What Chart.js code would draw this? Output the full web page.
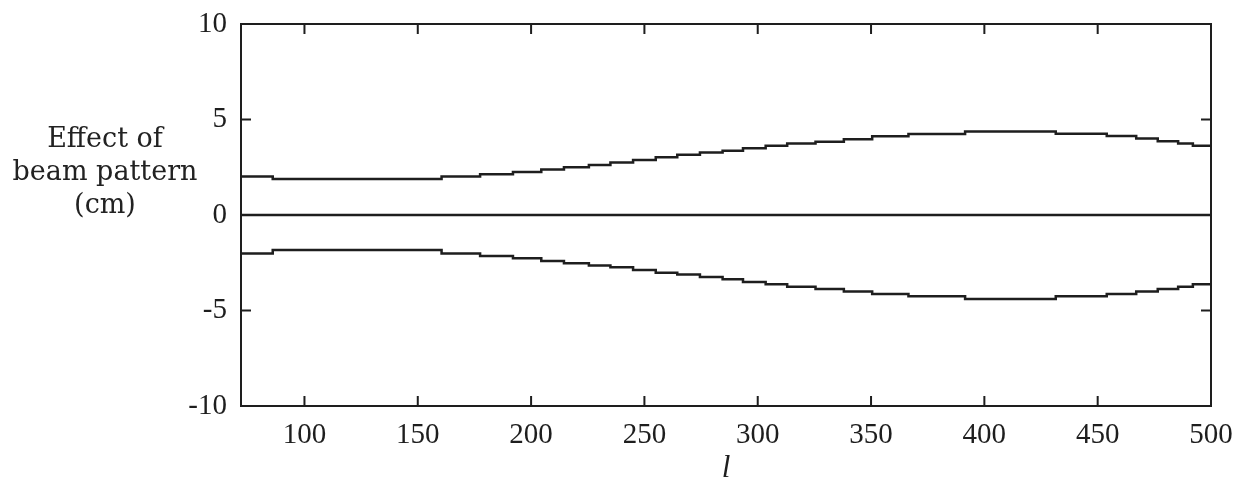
<!DOCTYPE html>
<html>
<head>
<meta charset="utf-8">
<script src="https://cdn.jsdelivr.net/npm/chart.js@4/dist/chart.umd.min.js"></script>
<style>
  html, body { margin: 0; padding: 0; background: #fff; }
  #wrap { position: relative; width: 1235px; height: 487px; }
  #ylabel {
    position: absolute; left: 0; top: 121px; width: 210px;
    text-align: center; font-family: "DejaVu Serif", serif; font-size: 27px;
    line-height: 33px; color: #222;
  }
</style>
</head>
<body>
<div id="wrap">
  <canvas id="beamChart" width="1235" height="487"></canvas>
  <div id="ylabel">Effect of<br>beam pattern<br>(cm)</div>
</div>
<script>
// step boundaries in l (each value holds from its l to the next one)
const stepL = [72, 86, 160.5, 177.5, 192, 204.5, 214.5, 225.5, 235, 245, 255, 264.5, 274.5, 284.5,
  293.5, 303.5, 313, 325.5, 338, 350.5, 366.5, 391.5, 431.5, 454, 467, 476.5, 485.5, 492, 500];
const upperCm = [2.02, 1.88, 2.01, 2.13, 2.25, 2.38, 2.50, 2.62, 2.75, 2.88, 3.02, 3.16, 3.27, 3.37,
  3.49, 3.63, 3.75, 3.84, 3.96, 4.12, 4.24, 4.37, 4.26, 4.14, 4.00, 3.86, 3.75, 3.63, 3.63];
const lowerCm = [-2.02, -1.83, -2.02, -2.15, -2.27, -2.41, -2.53, -2.65, -2.74, -2.88, -3.02, -3.12, -3.25, -3.37,
  -3.51, -3.63, -3.75, -3.87, -4.01, -4.14, -4.26, -4.40, -4.26, -4.14, -4.00, -3.87, -3.75, -3.63, -3.63];
const zeroL = [72, 500];
const zeroCm = [0, 0];
const xTicks = [100, 150, 200, 250, 300, 350, 400, 450, 500];
const yTicks = [-10, -5, 0, 5, 10];

const ink = "#1e1e1e";

function pts(xs, ys) {
  return xs.map((x, i) => ({ x: x, y: ys[i] }));
}

// box frame with inward ticks, gnuplot style
const frameTicks = {
  id: "frameTicks",
  afterDatasetsDraw(chart) {
    const { ctx, chartArea: a, scales } = chart;
    const len = 10;
    ctx.save();
    ctx.strokeStyle = ink;
    ctx.lineWidth = 2;
    ctx.strokeRect(a.left, a.top, a.right - a.left, a.bottom - a.top);
    ctx.beginPath();
    xTicks.forEach(v => {
      const px = scales.x.getPixelForValue(v);
      ctx.moveTo(px, a.bottom); ctx.lineTo(px, a.bottom - len);
      ctx.moveTo(px, a.top); ctx.lineTo(px, a.top + len);
    });
    yTicks.forEach(v => {
      const py = scales.y.getPixelForValue(v);
      ctx.moveTo(a.left, py); ctx.lineTo(a.left + len, py);
      ctx.moveTo(a.right, py); ctx.lineTo(a.right - len, py);
    });
    ctx.stroke();
    ctx.restore();
  }
};

const lineStyle = {
  borderColor: ink,
  borderWidth: 2.5,
  pointRadius: 0,
  fill: false,
  stepped: true
};

new Chart(document.getElementById("beamChart"), {
  type: "line",
  data: {
    datasets: [
      Object.assign({ label: "upper", data: pts(stepL, upperCm) }, lineStyle),
      Object.assign({ label: "zero", data: pts(zeroL, zeroCm) }, lineStyle, { stepped: false }),
      Object.assign({ label: "lower", data: pts(stepL, lowerCm) }, lineStyle)
    ]
  },
  options: {
    responsive: false,
    animation: false,
    layout: { padding: { left: 181, right: 24, top: 24, bottom: 0 } },
    plugins: { legend: { display: false }, tooltip: { enabled: false } },
    scales: {
      x: {
        type: "linear",
        min: 72,
        max: 500,
        afterBuildTicks: s => { s.ticks = xTicks.map(v => ({ value: v })); },
        afterFit: s => { s.height = 81; s.paddingLeft = 0; s.paddingRight = 0; },
        grid: { display: false, drawTicks: false },
        border: { display: false },
        ticks: {
          padding: 12,
          color: ink,
          font: { family: "Liberation Serif", size: 29 }
        },
        title: {
          display: true,
          text: "l",
          color: ink,
          padding: { top: 0, bottom: 0 },
          font: { family: "Liberation Serif", size: 31, style: "italic" }
        }
      },
      y: {
        min: -10,
        max: 10,
        afterBuildTicks: s => { s.ticks = yTicks.map(v => ({ value: v })); },
        afterFit: s => { s.width = 60; s.paddingTop = 0; s.paddingBottom = 0; },
        grid: { display: false, drawTicks: false },
        border: { display: false },
        ticks: {
          padding: 14,
          color: ink,
          font: { family: "Liberation Serif", size: 29 }
        }
      }
    }
  },
  plugins: [frameTicks]
});
</script>
</body>
</html>
